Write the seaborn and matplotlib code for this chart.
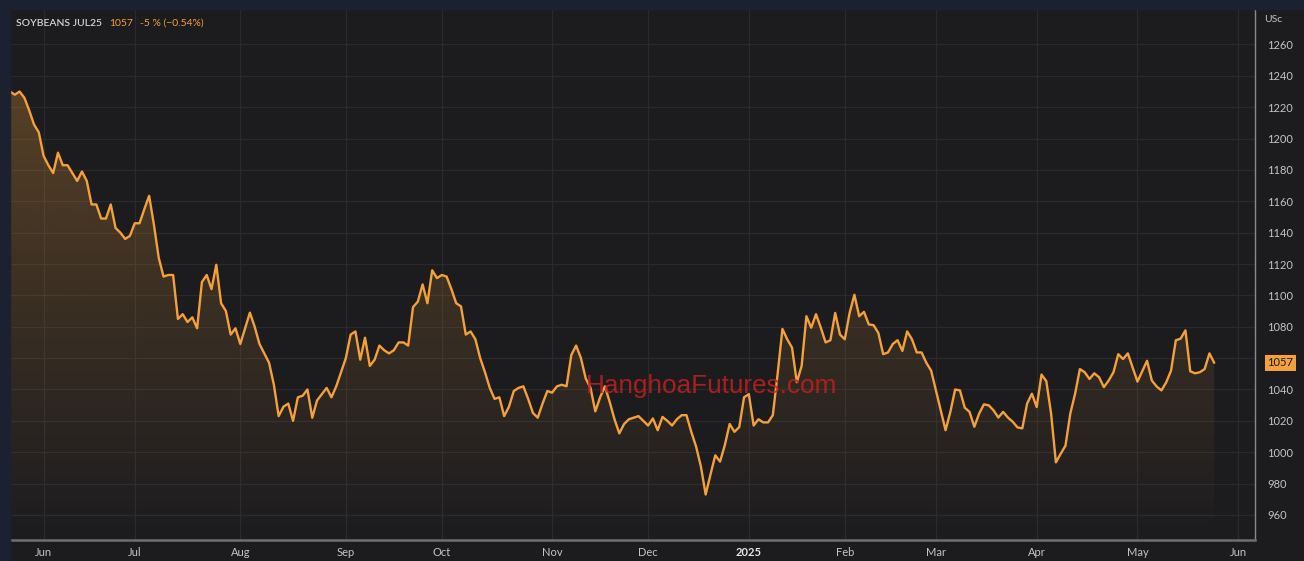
import numpy as np
import pandas as pd
import seaborn as sns
import matplotlib.pyplot as plt
import matplotlib.colors as mcolors
from matplotlib.patches import Rectangle

# daily settlement, soybeans July 2025 contract (US cents / bushel)
prices = [
    1230, 1228, 1230, 1226, 1218, 1209, 1204, 1189, 1183, 1178,
    1191, 1183, 1183, 1178, 1173, 1179, 1173, 1158, 1158, 1149,
    1149, 1158, 1143, 1140, 1136, 1138, 1146, 1146, 1155, 1163.5,
    1145, 1124, 1112, 1113, 1113, 1085, 1088, 1083, 1086, 1079,
    1108.5, 1113, 1104, 1119.5, 1095, 1090, 1075, 1079, 1069, 1079,
    1089, 1080, 1069, 1063, 1057, 1043, 1023, 1029, 1031, 1020,
    1035, 1036, 1040, 1022, 1033, 1037, 1041, 1035,
    1042, 1051, 1060, 1075, 1077, 1059, 1073, 1055, 1059, 1068,
    1065, 1063, 1065, 1070, 1070, 1068, 1092.5, 1096, 1107, 1095,
    1116, 1111, 1113, 1112, 1104, 1095, 1093, 1075, 1077, 1072,
    1060, 1051, 1041, 1034, 1035, 1023, 1029, 1039, 1041, 1042,
    1034, 1025, 1022, 1031, 1039, 1038, 1042, 1043, 1042, 1062,
    1068, 1060, 1047, 1041, 1026, 1035, 1042, 1032, 1021, 1012,
    1018, 1021, 1022, 1023, 1020, 1017,
    1021.5, 1014, 1022.5, 1020, 1017, 1021, 1023.6, 1023.6, 1013, 1003.6,
    991, 973, 985.7, 998, 994, 1004.6, 1018, 1013, 1016, 1035,
    1037, 1017, 1021, 1019, 1019, 1023.6, 1050, 1078.6, 1072, 1066.7,
    1044.6, 1055, 1086.7, 1079.4, 1088, 1079.4, 1070, 1071.4, 1088.8, 1075,
    1072, 1088.8, 1100.4, 1086.7, 1089.5, 1081.5, 1081, 1076, 1062.5, 1063.6,
    1069, 1071.4, 1064.6, 1077, 1072, 1063.6, 1063.6, 1057, 1052, 1039.4,
    1026.7, 1014, 1025.7, 1040, 1039.4, 1028.4, 1025.7,
    1016.2, 1024.6, 1030.5, 1029.9, 1026.7, 1022.1, 1025.7, 1022.1, 1019.4, 1015.8,
    1015.2, 1031, 1037.3, 1028.8, 1049.5, 1045.3, 1024.6, 993.5, 999, 1004.2,
    1024.6, 1037.3, 1053, 1051, 1046.7, 1050.3, 1047.8, 1041.5, 1045.7, 1051,
    1062.5, 1059.4, 1063, 1054, 1045, 1051.6, 1058.3, 1045.7, 1041.9, 1039.4,
    1044.6, 1052, 1071.4, 1072.4, 1077.7, 1051.6, 1050.3, 1051, 1053, 1063,
    1057,
]
holidays = ["2024-05-27", "2024-06-19", "2024-07-04", "2024-09-02", "2024-11-28",
            "2024-12-25", "2025-01-01", "2025-01-09", "2025-01-20", "2025-02-17",
            "2025-04-18", "2025-05-26"]
yticks = list(range(960, 1261, 20))
last_price = 1057
header_name = "SOYBEANS JUL25"
header_change = "-5 % (\u22120.54%)"
watermark = "HanghoaFutures.com"

# trading-day calendar, extended a little past the last bar for the Jun tick
days = pd.bdate_range("2024-05-22", "2025-06-10", freq="C", holidays=holidays)
df = pd.DataFrame({"pos": np.arange(len(prices)), "date": days[:len(prices)], "price": prices})

cal = pd.DataFrame({"pos": np.arange(len(days)), "date": days})
firsts = cal.groupby([cal.date.dt.year, cal.date.dt.month]).first()
firsts = firsts[firsts.pos > 0]  # partial first month gets no label
tick_pos = list(firsts.pos)
tick_lab = ["2025" if d.month == 1 else d.strftime("%b") for d in firsts.date]

bg = "#1c1c1f"
navy = "#1c2132"
orange = "#f5a13a"

sns.set_theme(style="dark", rc={"axes.facecolor": bg, "figure.facecolor": bg})
plt.rcParams["font.family"] = ["Lato", "DejaVu Sans"]

fig = plt.figure(figsize=(13.04, 5.61), dpi=100)
ax = fig.add_axes([10 / 1304, 21 / 561, 1245 / 1304, 530 / 561])
fig.patches.append(Rectangle((0, 1 - 9 / 561), 1, 9 / 561, transform=fig.transFigure, color=navy, zorder=0))
fig.patches.append(Rectangle((0, 0), 10 / 1304, 1, transform=fig.transFigure, color=navy, zorder=0))

ymin, ymax = 944, 1282
sns.lineplot(data=df, x="pos", y="price", color=orange, linewidth=1.7, ax=ax, zorder=3)

# vertical gradient under the line
grad = np.zeros((256, 1, 4))
grad[:, 0, :3] = mcolors.to_rgb(orange)
grad[:, 0, 3] = np.linspace(0.27, 0.0, 256)
im = ax.imshow(grad, aspect="auto", origin="upper", zorder=2,
               extent=[df.pos.min(), df.pos.max(), ymin, df.price.max()])
poly = ax.fill_between(df.pos, df.price, ymin, facecolor="none", edgecolor="none")
im.set_clip_path(poly.get_paths()[0], transform=ax.transData)

ax.set_xlim(0, 259.5)
ax.set_ylim(ymin, ymax)
ax.set_xticks(tick_pos)
ax.set_xticklabels(tick_lab)
ax.set_yticks(yticks)
ax.yaxis.tick_right()
ax.set_xlabel("")
ax.set_ylabel("")
ax.grid(True, color="#2a2a2e", linewidth=0.9)
ax.tick_params(axis="both", length=0, labelsize=8, colors="#c4c4c4")
ax.tick_params(axis="x", pad=5)
ax.tick_params(axis="y", pad=9)
for lab in ax.get_xticklabels():
    if lab.get_text() == "2025":
        lab.set_fontweight("bold")
        lab.set_color("#e6e6e6")

for s in ["top", "left"]:
    ax.spines[s].set_visible(False)
ax.spines["bottom"].set_visible(True)
ax.spines["bottom"].set_color("#6e6e72")
ax.spines["bottom"].set_linewidth(1.8)
ax.spines["right"].set_visible(True)
ax.spines["right"].set_color("#8a8a8e")
ax.spines["right"].set_linewidth(1.0)

# last price marker on the axis
ax.annotate(f"{last_price}", xy=(1.0, last_price), xycoords=("axes fraction", "data"),
            xytext=(9, 0), textcoords="offset points", va="center", ha="left",
            fontsize=8, color="#151515",
            bbox=dict(boxstyle="square,pad=0.25", fc=orange, ec="none"), zorder=6)

fig.text(1264 / 1304, 1 - 20 / 561, "USc", color="#c4c4c4", fontsize=7.5, va="center")
fig.text(16 / 1304, 1 - 23 / 561, header_name, color="#d4d4d4", fontsize=7.5,
         va="center", fontweight="semibold")
fig.text(109 / 1304, 1 - 23 / 561, f"{last_price}", color=orange, fontsize=7.5, va="center")
fig.text(140 / 1304, 1 - 23 / 561, header_change, color=orange, fontsize=7.5, va="center")

fig.text(712 / 1304, 1 - 386 / 561, watermark, color="#c0201e", fontsize=18.8,
         family=["Liberation Sans", "DejaVu Sans"], ha="center", va="center", alpha=0.85, zorder=10)

fig.savefig("out.png", dpi=100, facecolor=bg)
